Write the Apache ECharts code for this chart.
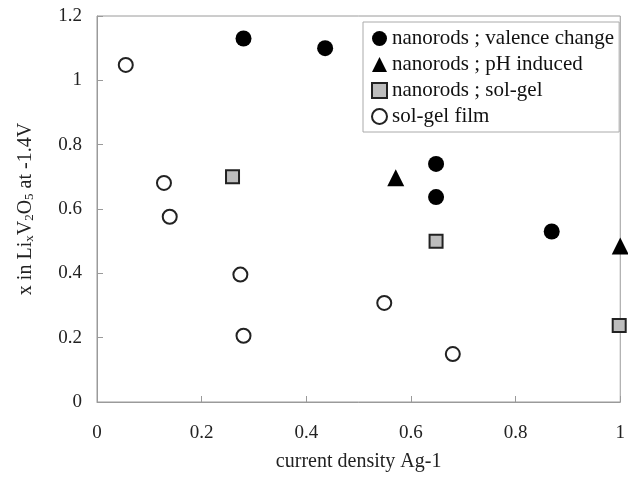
<!DOCTYPE html>
<html>
<head>
<meta charset="utf-8">
<script src="https://cdn.jsdelivr.net/npm/echarts@6/dist/echarts.min.js"></script>
<style>html,body{margin:0;padding:0;background:#fff}#c{width:628px;height:479px}</style>
</head>
<body>
<div id="c"></div>
<script>
const seriesNames = ["nanorods ; valence change", "nanorods ; pH induced", "nanorods ; sol-gel", "sol-gel film"];
const valenceChange = [[0.28, 1.13], [0.436, 1.10], [0.648, 0.74], [0.648, 0.637], [0.869, 0.53]];
const phInduced = [[0.571, 0.697], [1.0, 0.485]];
const solGelRods = [[0.259, 0.70], [0.648, 0.50], [0.998, 0.238]];
const solGelFilm = [[0.055, 1.048], [0.128, 0.681], [0.139, 0.576], [0.274, 0.396], [0.28, 0.206], [0.549, 0.308], [0.68, 0.149]];
const xTicks = [0, 0.2, 0.4, 0.6, 0.8, 1];
const yTicks = [0, 0.2, 0.4, 0.6, 0.8, 1, 1.2];

const font = "'Liberation Serif', 'Times New Roman', serif";
const chart = echarts.init(document.getElementById('c'), null, {renderer: 'canvas'});
const fmt = v => String(Math.round(v * 10) / 10);
chart.setOption({
  animation: false,
  backgroundColor: '#fff',
  textStyle: {fontFamily: font},
  grid: {left: 97, right: 6, top: 16, bottom: 77, show: true, borderColor: '#9a9a9a', borderWidth: 1, containLabel: false},
  xAxis: {
    type: 'value', min: xTicks[0], max: xTicks[xTicks.length - 1], interval: 0.2,
    name: 'current density Ag-1', nameLocation: 'middle', nameGap: 50,
    nameTextStyle: {fontFamily: font, fontSize: 20, color: '#222'},
    axisLine: {show: true, lineStyle: {color: '#9a9a9a', width: 1}},
    axisTick: {show: true, inside: true, length: 6, lineStyle: {color: '#9a9a9a'}},
    axisLabel: {fontFamily: font, fontSize: 19, color: '#222', margin: 22, formatter: fmt},
    splitLine: {show: false}
  },
  yAxis: {
    type: 'value', min: yTicks[0], max: yTicks[yTicks.length - 1], interval: 0.2,
    name: 'x in Li{s|x}V{s|2}O{s|5} at -1.4V', nameLocation: 'middle', nameGap: 61, nameRotate: 90,
    nameTextStyle: {fontFamily: font, fontSize: 20, color: '#222',
      rich: {s: {fontFamily: font, fontSize: 13, color: '#222', verticalAlign: 'bottom', padding: [7, 0, 0, 0]}}},
    axisLine: {show: true, lineStyle: {color: '#9a9a9a', width: 1}},
    axisTick: {show: true, inside: true, length: 6, lineStyle: {color: '#9a9a9a'}},
    axisLabel: {fontFamily: font, fontSize: 19, color: '#222', margin: 15, formatter: fmt},
    splitLine: {show: false}
  },
  legend: {
    orient: 'vertical', left: 363, top: 22,
    padding: [6, 5, 5, 8], itemGap: 5, itemWidth: 15, itemHeight: 15,
    borderColor: '#aaa', borderWidth: 1, backgroundColor: '#fff',
    textStyle: {fontFamily: font, fontSize: 21, color: '#111'},
    data: seriesNames
  },
  series: [
    {name: seriesNames[0], type: 'scatter', symbol: 'circle', symbolSize: 16, clip: false,
     itemStyle: {color: '#000', borderColor: '#000', borderWidth: 0, opacity: 1}, data: valenceChange},
    {name: seriesNames[1], type: 'scatter', symbol: 'triangle', symbolSize: 17, clip: false,
     itemStyle: {color: '#000', borderColor: '#000', borderWidth: 0, opacity: 1}, data: phInduced},
    {name: seriesNames[2], type: 'scatter', symbol: 'rect', symbolSize: 13, clip: false,
     itemStyle: {color: '#bdbdbd', borderColor: '#222', borderWidth: 2, opacity: 1}, data: solGelRods},
    {name: seriesNames[3], type: 'scatter', symbol: 'circle', symbolSize: 14, clip: false,
     itemStyle: {color: '#fff', borderColor: '#222', borderWidth: 2, opacity: 1}, data: solGelFilm}
  ]
});
</script>
</body>
</html>
